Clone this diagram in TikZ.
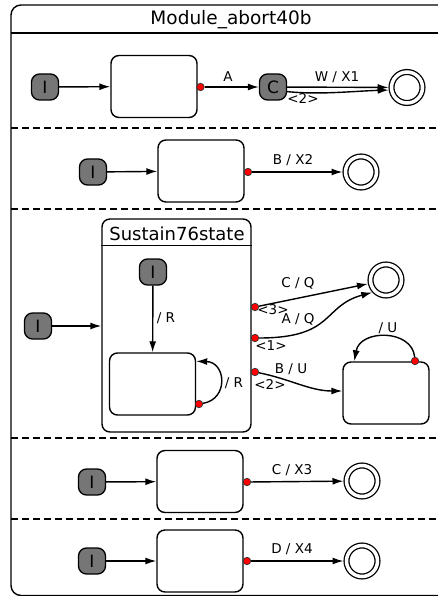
\documentclass[tikz,border=0pt]{standalone}
\usepackage{fontspec}
\setmainfont{DejaVu Sans}
\usepackage{tikz}
\usetikzlibrary{arrows.meta}

\definecolor{initgray}{RGB}{118,118,118}

\begin{document}
\begin{tikzpicture}[x=1pt,y=-1pt,
	every node/.style={font=\fontsize{13.5}{15}\selectfont},
	init/.style={draw=black, line width=1.3pt, fill=initgray, rounded corners=8pt,
		minimum width=27pt, minimum height=26pt, inner sep=0pt,
		font=\fontsize{17}{17}\selectfont},
	st/.style={draw, line width=1.4pt, rounded corners=8pt, inner sep=0pt,
		minimum width=86pt, minimum height=62pt},
	final/.style={draw, circle, line width=1.3pt, double, double distance=3.5pt,
		minimum size=31pt, inner sep=0pt, outer sep=3pt},
	prio/.style={circle, draw=black!80, fill=red, line width=0.7pt,
		minimum size=7.5pt, inner sep=0pt},
	tr/.style={line width=1.4pt, -{Latex[length=11pt,width=7pt]}},
	lbl/.style={inner sep=0pt},
	sep/.style={line width=1.3pt, dash pattern=on 7pt off 4pt}]
\useasboundingbox (0,0) rectangle (438,596);
\clip (0,0) rectangle (438,596);

% module frame
\draw[line width=1.4pt, rounded corners=10pt] (445,5) -- (11,5) -- (11,595.5) -- (445,595.5);
\node[font=\fontsize{18.5}{19}\selectfont] (title) at (231,20) {Module\_abort40b};
\draw[line width=1.4pt] (11,33) -- (445,33);
\foreach \y in {128,209,438,519}
	\draw[sep] (11,\y) -- (438,\y);

% region 1
\node[init] (i1) at (45,87) {I};
\node[st] (s1) at (154,86.5) {};
\node[prio] (p1) at (200.5,87) {};
\node[init] (c1) at (273,87) {C};
\node[final] (f1) at (407,87.5) {};
\draw[tr] (i1) -- (s1);
\draw[tr] (p1) -- (c1);
\draw[tr] (c1) -- (f1);
\draw[tr] (c1.-18) .. controls (320,95) and (355,91) .. (f1.188);
\node[lbl] (lA) at (228,77) {A};
\node[lbl] (lW) at (337,77) {W / X1};
\node[lbl] (lp1) at (303,98) {<2>};

% region 2
\node[init] (i2) at (93,172) {I};
\node[st] (s2) at (201,171) {};
\node[prio] (p2) at (248,172) {};
\node[final] (f2) at (361,172) {};
\draw[tr] (i2) -- (s2);
\draw[tr] (p2) -- (f2);
\node[lbl] (lB) at (293,160) {B / X2};

% region 3
\node[draw, line width=1.4pt, rounded corners=8pt, minimum width=149pt,
	minimum height=213pt, inner sep=0pt] (sus) at (176.5,325.5) {};
\node[font=\fontsize{18}{18}\selectfont] (sustitle) at (177,234) {Sustain76state};
\draw[line width=1.4pt] ([yshift=-27pt]sus.north west) -- ([yshift=-27pt]sus.north east);
\node[init] (i3) at (38,326) {I};
\draw[tr] (i3) -- (i3 -| sus.west);

\node[init] (i3b) at (153,272) {I};
\node[st] (s3a) at (152.5,384) {};
\node[prio] (p3i) at (199,404) {};
\draw[tr] (i3b) -- (s3a);
\draw[tr] (p3i) .. controls (229,399) and (226,362) .. ([yshift=-9pt]s3a.north east);
\node[lbl] (lR1) at (166,318) {/ R};
\node[lbl] (lR2) at (234,383) {/ R};

\node[final] (f3) at (386,280) {};
\node[st] (s3b) at (386,393) {};
\node[prio] (p3a) at (255,307) {};
\node[prio] (p3b) at (255,338) {};
\node[prio] (p3c) at (255,372) {};
\node[prio] (p3d) at (415,361) {};
\draw[tr] (p3a) -- (f3.192);
\draw[tr] (p3b) .. controls (335,338) and (322,306) .. (f3.222);
\draw[tr] (p3c) .. controls (290,379) and (310,391) .. ([yshift=2pt]s3b.west);
\draw[tr] (p3d) .. controls (412,329) and (360,329) .. ([xshift=12pt]s3b.north west);
\node[lbl] (lCQ) at (298,283) {C / Q};
\node[lbl] (lAQ) at (298,319) {A / Q};
\node[lbl] (lBU) at (291,369) {B / U};
\node[lbl] (lU) at (388,328) {/ U};
\node[lbl] (lp3) at (273,310) {<3>};
\node[lbl] (lp1b) at (271,346) {<1>};
\node[lbl] (lp2) at (270,384) {<2>};

% region 4
\node[init] (i4) at (92,482) {I};
\node[st] (s4) at (200,481.5) {};
\node[prio] (p4) at (247,482) {};
\node[final] (f4) at (362,481) {};
\draw[tr] (i4) -- (s4);
\draw[tr] (p4) -- (f4);
\node[lbl] (lC) at (292,470) {C / X3};

% region 5
\node[init] (i5) at (92,561) {I};
\node[st] (s5) at (200,561) {};
\node[prio] (p5) at (247,561) {};
\node[final] (f5) at (362,561) {};
\draw[tr] (i5) -- (s5);
\draw[tr] (p5) -- (f5);
\node[lbl] (lD) at (292,549) {D / X4};
\end{tikzpicture}
\end{document}
